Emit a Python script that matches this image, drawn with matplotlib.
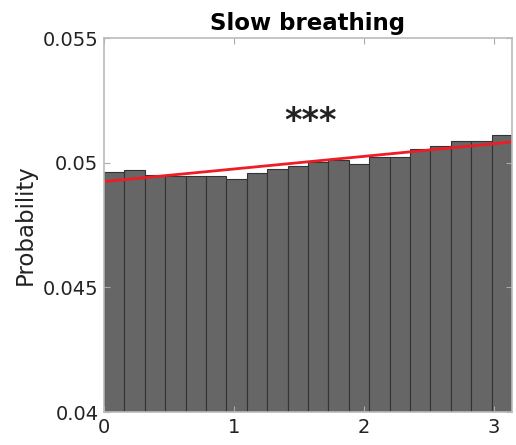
import numpy as np
import matplotlib
matplotlib.use("Agg")
import matplotlib.pyplot as plt

# bin probabilities (20 bins over 0..pi)
probs = [0.04964, 0.04969, 0.04951, 0.04948, 0.04947, 0.04945, 0.04936, 0.04957,
         0.04976, 0.04987, 0.05004, 0.05011, 0.04995, 0.05024, 0.05023, 0.05053,
         0.05068, 0.05088, 0.05088, 0.05110]
fit_start = 0.04924
fit_end = 0.05083
title = "Slow breathing"
ylabel = "Probability"
yticks = [0.04, 0.045, 0.05, 0.055]
ytick_labels = ["0.04", "0.045", "0.05", "0.055"]
xticks = [0, 1, 2, 3]

edges = np.linspace(0, np.pi, len(probs) + 1)
width = edges[1] - edges[0]

fig = plt.figure(figsize=(5.16, 4.45), dpi=100)
ax = fig.add_axes([104 / 516, 1 - 412 / 445, 408 / 516, 374 / 445])

ax.bar(edges[:-1], probs, width=width, align="edge", color="#666666",
       edgecolor="#333333", linewidth=0.8)
ax.plot([0, np.pi], [fit_start, fit_end], color="#ee1c24", linewidth=2)

# significance marker
ax.text(1.59, 0.05165, "***", ha="center", va="center", fontsize=24,
        fontweight="bold", color="#222222")

ax.set_xlim(0, np.pi)
ax.set_ylim(0.04, 0.055)
ax.set_xticks(xticks)
ax.set_yticks(yticks)
ax.set_yticklabels(ytick_labels)
ax.tick_params(direction="in", top=True, right=True, length=4, color="#aaaaaa",
               labelsize=14, labelcolor="#222222", pad=4)
for s in ax.spines.values():
    s.set_color("#bbbbbb")
    s.set_linewidth(1.2)

ax.set_title(title, fontsize=16.5, fontweight="bold", pad=6)
ax.set_ylabel(ylabel, fontsize=16.5, color="#222222", labelpad=4)

fig.savefig("out.png", dpi=100)
